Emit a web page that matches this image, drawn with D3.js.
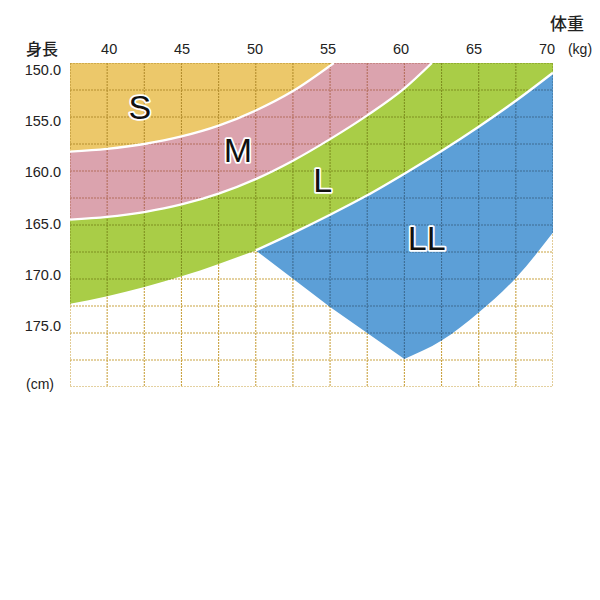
<!DOCTYPE html>
<html>
<head>
<meta charset="utf-8">
<script src="https://cdn.jsdelivr.net/npm/d3@7"></script>
<style>
  body { margin: 0; background: #fff; }
  svg { display: block; }
</style>
</head>
<body>
<div class="container"></div>
<script>
// weight (kg) ticks / height (cm) ticks
var weightTicks = [40, 45, 50, 55, 60, 65, 70];
var heightTicks = [150, 155, 160, 165, 170, 175];

// boundaries, [kg, cm]
var smBoundary = [[37.5,158.2],[40,157.95],[42.5,157.5],[45,156.8],[47.5,155.8],[50,154.4],[52.5,152.6],[55.25,150]];
var mlBoundary = [[37.5,164.5],[40,164.25],[42.5,163.8],[45,163.1],[47.5,162.1],[50,160.75],[52.5,159.05],[55,157.05],[57.5,154.85],[60,152.35],[61.85,150]];
var lllBoundary = [[50,167.35],[52.5,165.75],[55,164.05],[57.5,162.25],[60,160.25],[62.5,158.15],[65,155.9],[67.5,153.5],[70,150.9]];
var lLower = [[37.5,172.3],[40,171.6],[42.5,170.75],[45,169.75],[47.5,168.6],[50,167.35]];
var llLower = [[50,167.35],[55,172.6],[60,177.4]];
var llRight = [[60,177.4],[62.5,175.7],[65,173.1],[67.5,169.9],[70,165.7]];

var sizeNames = ['S', 'M', 'L', 'LL'];
var sizeLabelPos = [[42.2,155.2],[48.8,159.2],[54.5,161.9],[61.5,167.3]];

var width = 600, height = 600;

var svg = d3.select('.container').append('svg').attr('width', width).attr('height', height);

var x = d3.scaleLinear().domain([37.5, 70]).range([70, 553]);
var y = d3.scaleLinear().domain([150, 180]).range([63, 387]);

// label positions drift a little from the grid in the original
var xl = d3.scaleLinear().domain([40, 70]).range([x(40) + 2, x(70) - 6]);
var yl = d3.scaleLinear().domain([150, 175]).range([y(150) + 7, y(175) - 7]);

var smooth = d3.line().x(function(d){ return x(d[0]); }).y(function(d){ return y(d[1]); })
  .curve(d3.curveMonotoneX);
var straight = d3.line().x(function(d){ return x(d[0]); }).y(function(d){ return y(d[1]); });

function cont(s){ return s.replace(/^M/, 'L'); }
function rev(a){ return a.slice().reverse(); }

var regions = [
  { name: 'L', fill: '#a9cd47', grid: '#7f9020',
    d: straight([[37.5,150],[70,150]]) + cont(smooth(rev(lllBoundary))) + cont(smooth(rev(lLower))) + 'Z' },
  { name: 'M', fill: '#dba3ae', grid: '#b46e5c',
    d: straight([[37.5,150],[61.85,150]]) + cont(smooth(rev(mlBoundary))) + 'Z' },
  { name: 'S', fill: '#ecc86a', grid: '#b48e2e',
    d: straight([[37.5,150],[55.25,150]]) + cont(smooth(rev(smBoundary))) + 'Z' },
  { name: 'LL', fill: '#5c9fd7', grid: '#3e6c92',
    d: smooth(lllBoundary) + cont(smooth(rev(llRight))) + cont(straight(rev(llLower))) + 'Z' }
];

var defs = svg.append('defs');
defs.append('clipPath').attr('id', 'plot-clip')
  .append('rect').attr('x', x(37.5)).attr('y', y(150))
  .attr('width', x(70) - x(37.5)).attr('height', y(180) - y(150));

regions.forEach(function(r, i){
  defs.append('clipPath').attr('id', 'reg' + i).append('path').attr('d', r.d);
});

var gridX = d3.range(37.5, 70.01, 2.5);
var gridY = d3.range(150, 180.01, 2.5);

function drawGrid(g, color){
  g.selectAll('line.v').data(gridX).enter().append('line').attr('class', 'v')
    .attr('x1', function(d){ return x(d); }).attr('x2', function(d){ return x(d); })
    .attr('y1', y(150)).attr('y2', y(180))
    .attr('stroke', color).attr('stroke-width', 1.1).attr('stroke-dasharray', '2,1');
  g.selectAll('line.h').data(gridY).enter().append('line').attr('class', 'h')
    .attr('y1', function(d){ return y(d); }).attr('y2', function(d){ return y(d); })
    .attr('x1', x(37.5)).attr('x2', x(70))
    .attr('stroke', color).attr('stroke-width', 1.1).attr('stroke-dasharray', '2,1');
}

var plot = svg.append('g').attr('clip-path', 'url(#plot-clip)');

// base grid on white
drawGrid(plot.append('g'), '#caa342');

regions.forEach(function(r, i){
  plot.append('path').attr('d', r.d).attr('fill', r.fill);
  drawGrid(plot.append('g').attr('clip-path', 'url(#reg' + i + ')'), r.grid);
});

// white boundary lines
[smBoundary, mlBoundary, lllBoundary].forEach(function(b){
  plot.append('path').attr('d', smooth(b)).attr('fill', 'none')
    .attr('stroke', '#fff').attr('stroke-width', 2.3);
});

// size labels
svg.selectAll('text.size').data(sizeNames).enter().append('text').attr('class', 'size')
  .attr('x', function(d, i){ return x(sizeLabelPos[i][0]); })
  .attr('y', function(d, i){ return y(sizeLabelPos[i][1]); })
  .attr('text-anchor', 'middle')
  .style('font-family', '"Liberation Sans", Arial, sans-serif')
  .style('font-size', '34px')
  .style('paint-order', 'stroke')
  .attr('fill', '#111').attr('stroke', '#fff').attr('stroke-width', 3.5)
  .attr('stroke-linejoin', 'round')
  .text(function(d){ return d; });

// axis labels
var numFont = '"Liberation Sans", Arial, sans-serif';
var cjkFont = '"Noto Sans CJK JP", sans-serif';

svg.selectAll('text.xt').data(weightTicks).enter().append('text').attr('class', 'xt')
  .attr('x', function(d){ return xl(d); }).attr('y', 54)
  .attr('text-anchor', 'middle')
  .style('font-family', numFont).style('font-size', '14.5px').attr('fill', '#222')
  .text(function(d){ return d; });

svg.selectAll('text.yt').data(heightTicks).enter().append('text').attr('class', 'yt')
  .attr('x', 61).attr('y', function(d){ return yl(d) + 5; })
  .attr('text-anchor', 'end')
  .style('font-family', numFont).style('font-size', '14.5px').attr('fill', '#222')
  .text(function(d){ return d.toFixed(1); });

svg.append('text').attr('x', 42).attr('y', 55).attr('text-anchor', 'middle')
  .style('font-family', cjkFont).style('font-size', '16px').style('font-weight', 500)
  .attr('fill', '#222').text('身長');
svg.append('text').attr('x', 567).attr('y', 30).attr('text-anchor', 'middle')
  .style('font-family', cjkFont).style('font-size', '17px').style('font-weight', 500)
  .attr('fill', '#222').text('体重');
svg.append('text').attr('x', 580).attr('y', 54).attr('text-anchor', 'middle')
  .style('font-family', numFont).style('font-size', '14px').attr('fill', '#222').text('(kg)');
svg.append('text').attr('x', 40).attr('y', 389).attr('text-anchor', 'middle')
  .style('font-family', numFont).style('font-size', '14px').attr('fill', '#222').text('(cm)');
</script>
</body>
</html>
